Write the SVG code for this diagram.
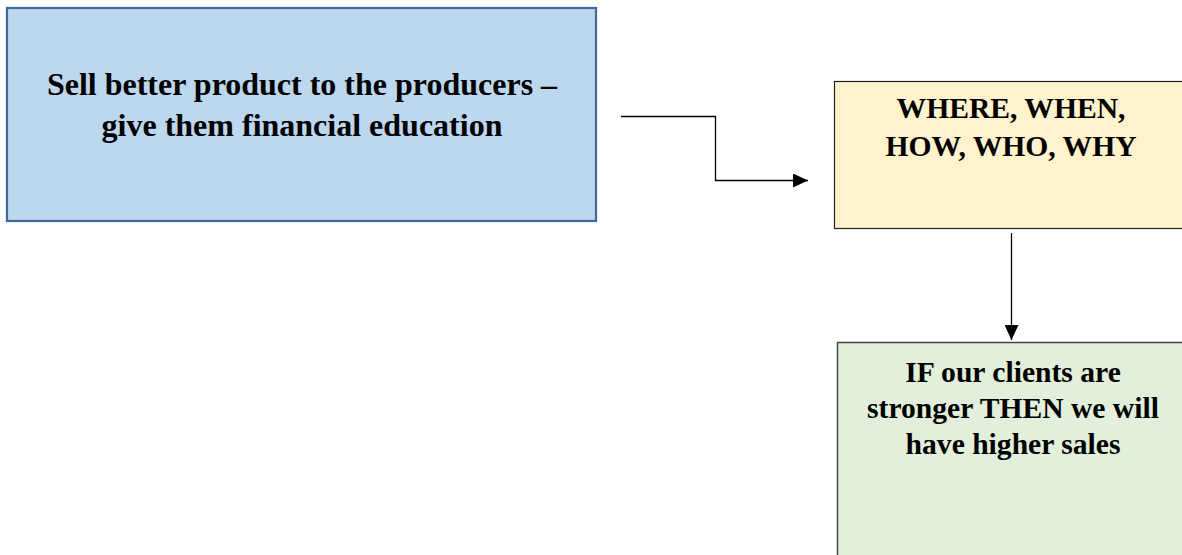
<svg xmlns="http://www.w3.org/2000/svg" width="1182" height="555" viewBox="0 0 1182 555">
  <style>
    .t { font-family: "Liberation Serif", "Times New Roman", serif; font-weight: bold; fill: #000; text-anchor: middle; }
    .big { font-size: 32px; }
    .med { font-size: 29.6px; }
    .conn { fill: none; stroke: #000; stroke-width: 1.3; }
  </style>
  <defs>
    <marker id="arrow" markerWidth="15" markerHeight="14" refX="15" refY="7" orient="auto" markerUnits="userSpaceOnUse">
      <path d="M0,0 L15,7 L0,14 Z" fill="#000"/>
    </marker>
  </defs>
  <rect width="1182" height="555" fill="#fff"/>
  <g id="node-sell">
    <rect x="7" y="8" width="589" height="213" fill="#bdd7ee" stroke="#41689f" stroke-width="2.2"/>
    <text class="t big" x="302" y="94.5">Sell better product to the producers –</text>
    <text class="t big" x="302" y="136">give them financial education</text>
  </g>
  <g id="node-where">
    <rect x="834.5" y="81.5" width="354" height="147" fill="#fff2cc" stroke="#222" stroke-width="1.2"/>
    <text class="t med" x="1011" y="118">WHERE, WHEN,</text>
    <text class="t med" x="1011" y="156">HOW, WHO, WHY</text>
  </g>
  <g id="node-if">
    <rect x="837.5" y="342.5" width="350" height="230" fill="#e2efda" stroke="#444" stroke-width="1.5"/>
    <text class="t med" x="1013" y="381.5">IF our clients are</text>
    <text class="t med" x="1013" y="418">stronger THEN we will</text>
    <text class="t med" x="1013" y="453.5">have higher sales</text>
  </g>
  <g id="connectors">
    <path class="conn" d="M621,116.5 H715.5 V180.5 H808" marker-end="url(#arrow)"/>
    <path class="conn" d="M1011.5,233 V340" marker-end="url(#arrow)"/>
  </g>
</svg>
